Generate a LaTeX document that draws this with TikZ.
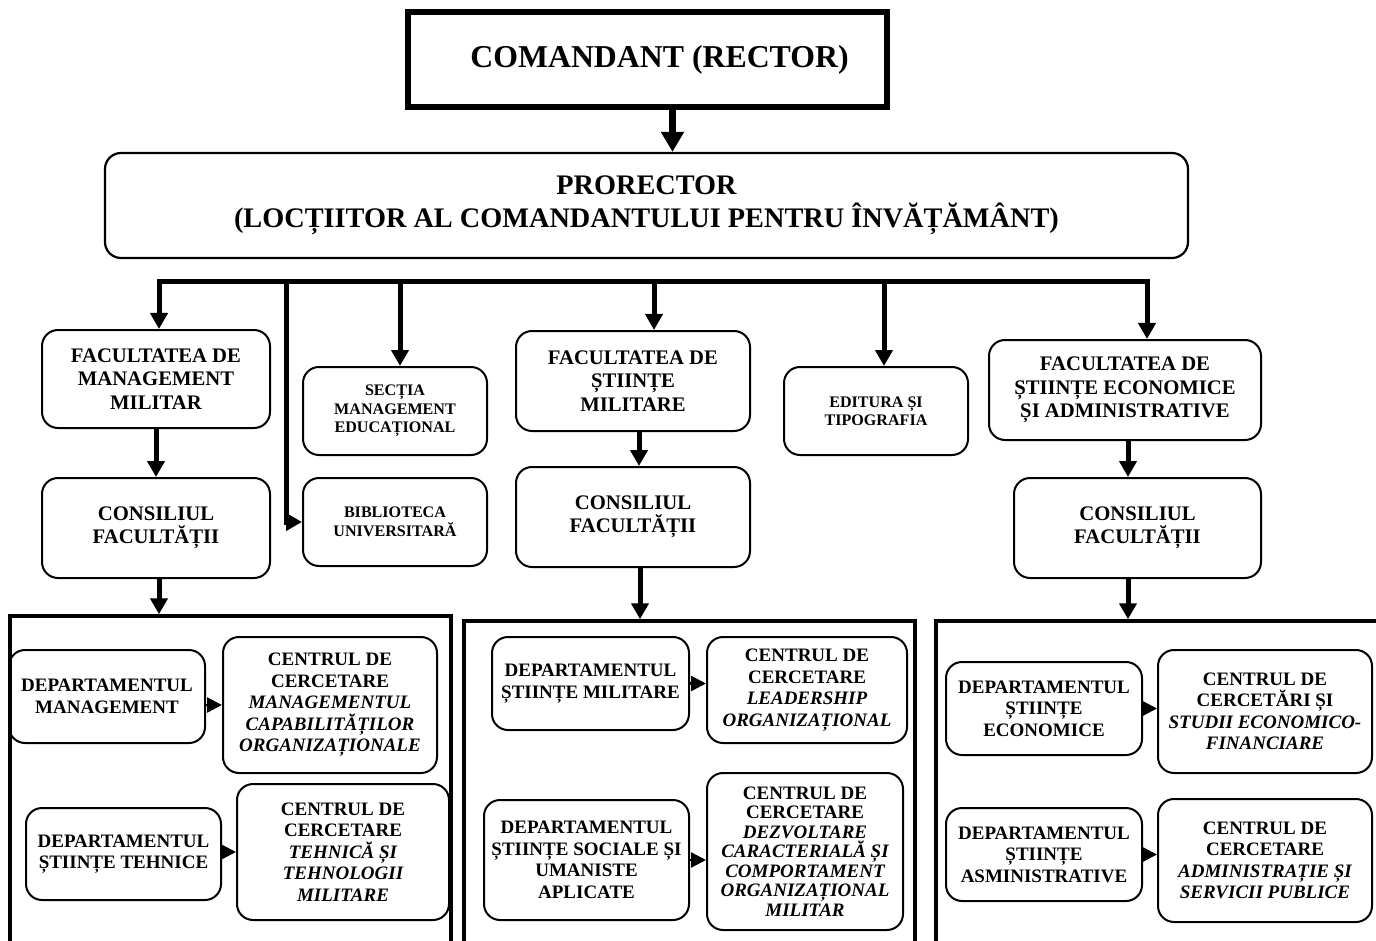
\documentclass[tikz,border=0pt]{standalone}
\usepackage{fontspec}
\setmainfont{Liberation Serif}
\usetikzlibrary{shapes,arrows.meta}
\newcommand{\centre}[2]{CENTRUL DE\\#1\\#2}

\begin{document}
\begin{tikzpicture}[x=1pt, y=-1pt,
	unitbox/.style={draw, rounded corners=16pt, line width=2pt, align=center, inner sep=0pt, font=\fontsize{20.7}{23.5}\selectfont\bfseries},
	minorbox/.style={unitbox, font=\fontsize{16.1}{18.5}\selectfont\bfseries},
	deptbox/.style={unitbox, font=\fontsize{19}{21.5}\selectfont\bfseries},
	framebox/.style={draw, line width=3.5pt, inner sep=0pt},
	bigarr/.style={line width=7pt, -{Triangle[length=20pt,width=22pt]}},
	arr/.style={line width=5pt, -{Triangle[length=16pt,width=17pt]}},
	smallarr/.style={line width=2.5pt, -{Triangle[length=15pt,width=15pt]}}]
	\useasboundingbox (0,0) rectangle (1376,941);

	\node[draw, line width=6pt, minimum width=479pt, minimum height=95pt, font=\fontsize{31.8}{36}\selectfont\bfseries] (rector) at (647.5,59.5) {\hspace*{24pt}COMANDANT (RECTOR)};
	\node[unitbox, line width=2.2pt, minimum width=1083pt, minimum height=105pt, font=\fontsize{28.3}{33}\selectfont\bfseries] (prorector) at (646.5,205.5) {PRORECTOR\\(LOCȚIITOR AL COMANDANTULUI PENTRU ÎNVĂȚĂMÂNT)};
	\draw[bigarr] ([xshift=25pt]rector.south) -- ([xshift=25pt]rector.south |- prorector.north);

	\node[unitbox, minimum width=228pt, minimum height=98pt] (fmm) at (156,379) {FACULTATEA DE\\MANAGEMENT\\MILITAR};
	\node[unitbox, below of=fmm, node distance=149pt, minimum width=228pt, minimum height=100pt] (cfmm) {CONSILIUL\\FACULTĂȚII};
	\node[minorbox, minimum width=184pt, minimum height=88pt] (sectia) at (395,411) {SECȚIA\\MANAGEMENT\\EDUCAȚIONAL};
	\node[minorbox, below of=sectia, node distance=111pt, minimum width=184pt, minimum height=88pt] (biblio) {BIBLIOTECA\\UNIVERSITARĂ};
	\node[unitbox, minimum width=234pt, minimum height=100pt] (fsm) at (633,381) {FACULTATEA DE\\ȘTIINȚE\\MILITARE};
	\node[unitbox, below of=fsm, node distance=136pt, minimum width=234pt, minimum height=100pt] (cfsm) {CONSILIUL\\FACULTĂȚII};
	\node[minorbox, minimum width=184pt, minimum height=88pt] (editura) at (876,411) {EDITURA ȘI\\TIPOGRAFIA};
	\node[unitbox, minimum width=272pt, minimum height=100pt] (fsea) at (1125,390) {FACULTATEA DE\\ȘTIINȚE ECONOMICE\\ȘI ADMINISTRATIVE};
	\node[unitbox, minimum width=247pt, minimum height=100pt] (cfsea) at (1137.5,528) {CONSILIUL\\FACULTĂȚII};

	\coordinate (busL) at (159,282);
	\coordinate (busR) at (1147,282);
	\coordinate (vbib) at (286,282);
	\draw[line width=5pt, line cap=rect] (busL) -- (busR);
	\draw[arr] (busL) -- (busL |- fmm.north);
	\draw[arr] (vbib) |- (biblio.west);
	\draw[arr] ([xshift=5pt]sectia.north |- busL) -- ([xshift=5pt]sectia.north);
	\draw[arr] ([xshift=21pt]fsm.north |- busL) -- ([xshift=21pt]fsm.north);
	\draw[arr] ([xshift=8pt]editura.north |- busL) -- ([xshift=8pt]editura.north);
	\draw[arr] (busR) -- (busR |- fsea.north);

	\draw[arr] (fmm) -- (cfmm);
	\draw[arr] ([xshift=6pt]fsm.south) -- ([xshift=6pt]fsm.south |- cfsm.north);
	\draw[arr] ([xshift=3pt]fsea.south) -- ([xshift=3pt]fsea.south |- cfsea.north);

	\node[framebox, minimum width=441pt, minimum height=344pt] (leftc) at (230.5,788) {};
	\node[framebox, minimum width=451pt, minimum height=339pt] (midc) at (689.5,790.5) {};
	\node[framebox, minimum width=464pt, minimum height=339pt] (rightc) at (1168,790.5) {};
	\draw[arr] ([xshift=3pt]cfmm.south) -- ([xshift=3pt]cfmm.south |- leftc.north);
	\draw[arr] ([xshift=7pt]cfsm.south) -- ([xshift=7pt]cfsm.south |- midc.north);
	\draw[arr] ([xshift=3pt]fsea.south |- cfsea.south) -- ([xshift=3pt]fsea.south |- rightc.north);

	\node[deptbox, minimum width=196pt, minimum height=93pt] (dm) at (107,696.5) {DEPARTAMENTUL\\MANAGEMENT};
	\node[deptbox, minimum width=214pt, minimum height=136pt] (cm) at (330,705) {\centre{CERCETARE}{\itshape MANAGEMENTUL}\\\itshape CAPABILITĂȚILOR\\\itshape ORGANIZAȚIONALE};
	\node[deptbox, minimum width=195pt, minimum height=92pt] (dt) at (123.5,854) {DEPARTAMENTUL\\ȘTIINȚE TEHNICE};
	\node[deptbox, minimum width=212pt, minimum height=136pt] (ct) at (343,852) {\centre{CERCETARE}{\itshape TEHNICĂ ȘI}\\\itshape TEHNOLOGII\\\itshape MILITARE};
	\draw[smallarr] (dm.east |- cm.west) -- (cm.west);
	\draw[smallarr] (dt.east |- ct.west) -- (ct.west);

	\node[deptbox, minimum width=197pt, minimum height=93pt] (dsm) at (590.5,683.5) {DEPARTAMENTUL\\ȘTIINȚE MILITARE};
	\node[deptbox, minimum width=200pt, minimum height=106pt] (cl) at (807,690) {\centre{CERCETARE}{\itshape LEADERSHIP}\\\itshape ORGANIZAȚIONAL};
	\node[deptbox, minimum width=205pt, minimum height=120pt] (dss) at (586.5,860) {DEPARTAMENTUL\\ȘTIINȚE SOCIALE ȘI\\UMANISTE\\APLICATE};
	\node[deptbox, minimum width=196pt, minimum height=157pt, font=\fontsize{19}{19.5}\selectfont\bfseries] (cd) at (805,851.5) {\centre{CERCETARE}{\itshape DEZVOLTARE}\\\itshape CARACTERIALĂ ȘI\\\itshape COMPORTAMENT\\\itshape ORGANIZAȚIONAL\\\itshape MILITAR};
	\draw[smallarr] (dsm.east) -- (dsm.east -| cl.west);
	\draw[smallarr] (dss.east) -- (dss.east -| cd.west);

	\node[deptbox, minimum width=196pt, minimum height=93pt] (dse) at (1044,708.5) {DEPARTAMENTUL\\ȘTIINȚE\\ECONOMICE};
	\node[deptbox, minimum width=214pt, minimum height=123pt] (cs) at (1265,711.5) {\centre{CERCETĂRI ȘI}{\itshape STUDII ECONOMICO-}\\\itshape FINANCIARE};
	\node[deptbox, minimum width=196pt, minimum height=93pt] (dsa) at (1044,854.5) {DEPARTAMENTUL\\ȘTIINȚE\\ASMINISTRATIVE};
	\node[deptbox, minimum width=214pt, minimum height=123pt] (ca) at (1265,860.5) {\centre{CERCETARE}{\itshape ADMINISTRAȚIE ȘI}\\\itshape SERVICII PUBLICE};
	\draw[smallarr] (dse.east) -- (dse.east -| cs.west);
	\draw[smallarr] (dsa.east) -- (dsa.east -| ca.west);
\end{tikzpicture}
\end{document}
